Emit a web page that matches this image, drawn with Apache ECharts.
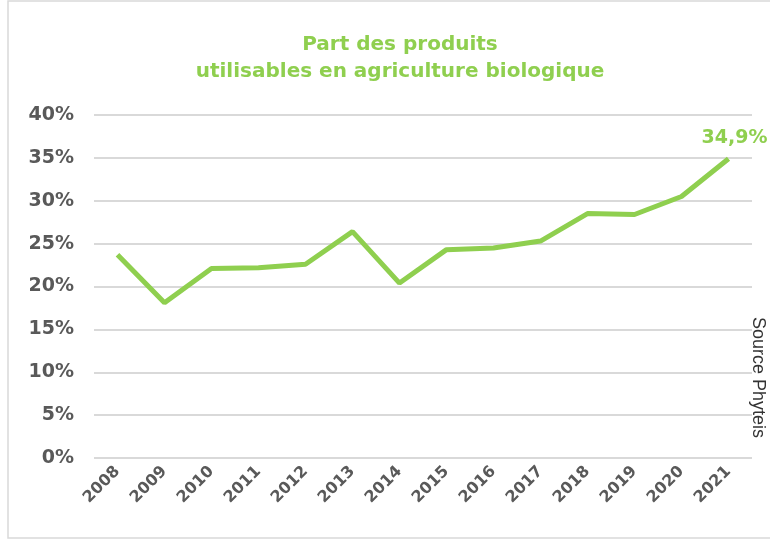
<!DOCTYPE html>
<html><head><meta charset="utf-8">
<script src="https://cdn.jsdelivr.net/npm/echarts@6/dist/echarts.min.js"></script>
<style>html,body{margin:0;padding:0;background:#fff}#c{width:770px;height:541px}</style>
</head><body><div id="c"></div>
<script>
const years = ['2008','2009','2010','2011','2012','2013','2014','2015','2016','2017','2018','2019','2020','2021'];
const share = [23.7,18.1,22.1,22.2,22.6,26.4,20.4,24.3,24.5,25.3,28.5,28.4,30.5,34.9];
const yTicks = [0,5,10,15,20,25,30,35,40];
const titleLines = ['Part des produits','utilisables en agriculture biologique'];
const sourceText = 'Source Phyteis';

const chart = echarts.init(document.getElementById('c'));
const green = '#8fcf4f';
const font = 'DejaVu Sans';
chart.setOption({
  animation:false,
  title:{text:titleLines.join('\n'),left:395,top:26,textAlign:'center',
    textStyle:{color:green,fontFamily:font,fontWeight:'bold',fontSize:20,lineHeight:27}},
  grid:{left:94,right:18,top:115,bottom:83,containLabel:false},
  xAxis:{type:'category',data:years,boundaryGap:true,
    axisLine:{show:false},axisTick:{show:false},
    axisLabel:{rotate:45,margin:11,color:'#595959',fontFamily:font,fontWeight:'bold',fontSize:16}},
  yAxis:{type:'value',min:yTicks[0],max:yTicks[yTicks.length-1],interval:5,
    axisLine:{show:false},axisTick:{show:false},
    splitLine:{lineStyle:{color:'#d9d9d9',width:2}},
    axisLabel:{margin:20,formatter:v=>v+'%',color:'#595959',fontFamily:font,fontWeight:'bold',fontSize:19}},
  series:[{type:'line',
    data:share.map((v,i)=>i===share.length-1?{value:v,label:{show:true}}:v),
    symbol:'circle',symbolSize:0,showSymbol:true,
    lineStyle:{color:green,width:5},itemStyle:{color:green},
    label:{show:false,position:'top',distance:10,formatter:p=>String(p.value).replace('.',',')+'%',
      color:green,fontFamily:font,fontWeight:'bold',fontSize:19,offset:[6,-1]}}],
  graphic:[
    {type:'rect',shape:{x:8,y:1,width:800,height:537},style:{fill:'none',stroke:'#d9d9d9',lineWidth:1.5},silent:true},
    {type:'text',x:767,y:317,rotation:-Math.PI/2,
      style:{text:sourceText,fill:'#333',fontFamily:'Liberation Sans',fontSize:18,verticalAlign:'top',align:'left'}}
  ]
});
</script></body></html>
